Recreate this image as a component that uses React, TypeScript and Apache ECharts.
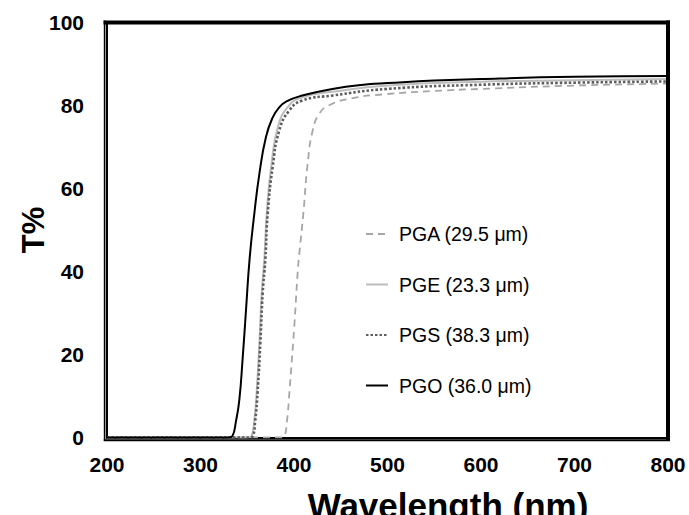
import React, { useEffect, useRef } from "react";
import * as echarts from "echarts";

const seriesNames = ["PGA (29.5 μm)", "PGE (23.3 μm)", "PGS (38.3 μm)", "PGO (36.0 μm)"];

const pgaWave = [200, 386, 389.6, 392.5, 395, 400.3, 404, 406, 410, 414.6, 420, 427, 437, 461, 496.6, 550, 600, 700, 800];
const pgaT = [0, 0, 0.3, 4, 10.7, 26.8, 40, 45, 54, 66, 74, 78, 80, 81.7, 82.7, 83.5, 84, 84.8, 85.3];

const pgeWave = [200, 351, 354.5, 357.5, 360, 363, 365.5, 368.3, 371, 376, 383, 394, 409, 441, 500, 600, 700, 800];
const pgeT = [0, 0, 0.3, 4, 10.7, 22.8, 34.8, 43, 54.5, 66, 75, 79.8, 82, 83.3, 84.8, 85.7, 86.1, 86.4];

const pgsWave = [200, 352, 355.8, 358.5, 361, 364, 366.5, 369.3, 371.9, 377.2, 384.3, 395, 409, 441, 500, 600, 700, 800];
const pgsT = [0, 0, 0.3, 4, 10.7, 22.8, 34.8, 42.8, 54, 65.2, 74, 78.8, 81.2, 82.4, 84, 85, 85.5, 85.8];

const pgoWave = [200, 330, 334, 338, 341.5, 345, 348.7, 352.5, 357.6, 363, 370, 377, 384, 392, 409, 441, 479, 500, 550, 600, 700, 800];
const pgoT = [0, 0, 0.3, 4, 9, 18.8, 30.8, 43, 54, 63.6, 72.4, 77, 79.5, 81, 82.4, 84, 85.1, 85.4, 86, 86.4, 86.9, 87.1];

const xTicks = [200, 300, 400, 500, 600, 700, 800];
const yTicks = [0, 20, 40, 60, 80, 100];

const pairs = (xs: number[], ys: number[]) => xs.map((x, i) => [x, ys[i]]);

const FONT = "'Liberation Sans', Arial, sans-serif";

export default function App() {
  const ref = useRef<HTMLDivElement>(null);
  useEffect(() => {
    if (!ref.current) return;
    const chart = echarts.init(ref.current, undefined, { renderer: "svg" });
    const mk = (name: string, data: number[][], color: string, width: number, type: any) => ({
      name,
      type: "line",
      data,
      showSymbol: false,
      symbol: "none",
      smooth: 0.5,
      lineStyle: { color, width, type },
      itemStyle: { color },
      z: 3,
    });
    chart.setOption({
      animation: false,
      backgroundColor: "#ffffff",
      grid: { left: 107, right: 21, top: 22.5, bottom: 77.5, containLabel: false },
      xAxis: {
        type: "value",
        min: xTicks[0],
        max: xTicks[xTicks.length - 1],
        interval: 100,
        axisLine: { show: true, lineStyle: { color: "#000", width: 2 } },
        axisTick: { show: false },
        splitLine: { show: false },
        axisLabel: { color: "#000", fontSize: 21, fontWeight: "bold", fontFamily: FONT, margin: 16 },
      },
      yAxis: {
        type: "value",
        min: yTicks[0],
        max: yTicks[yTicks.length - 1],
        interval: 20,
        axisLine: { show: true, lineStyle: { color: "#000", width: 2 } },
        axisTick: { show: false },
        splitLine: { show: false },
        axisLabel: { color: "#000", fontSize: 21, fontWeight: "bold", fontFamily: FONT, margin: 23 },
      },
      legend: {
        orient: "vertical",
        left: 360,
        top: 219,
        itemWidth: 22,
        itemHeight: 14,
        itemGap: 30.5,
        itemStyle: { opacity: 0, borderWidth: 0 },
        textStyle: { color: "#000", fontSize: 19.5, fontFamily: FONT, padding: [0, 0, 0, 6] },
        data: seriesNames,
      },
      series: [
        mk(seriesNames[0], pairs(pgaWave, pgaT), "#a6a6a6", 1.8, [7, 5]),
        mk(seriesNames[1], pairs(pgeWave, pgeT), "#bdbdbd", 2, "solid"),
        mk(seriesNames[2], pairs(pgsWave, pgsT), "#5e5e5e", 2.6, [2.5, 2]),
        mk(seriesNames[3], pairs(pgoWave, pgoT), "#000000", 2, "solid"),
      ],
      graphic: [
        { type: "line", z: 100, shape: { x1: 103.5, y1: 22.5, x2: 670, y2: 22.5 }, style: { stroke: "#000", lineWidth: 4 } },
        { type: "line", z: 100, shape: { x1: 668, y1: 20.5, x2: 668, y2: 441 }, style: { stroke: "#000", lineWidth: 4 } },
        { type: "line", z: 100, shape: { x1: 104.6, y1: 20.5, x2: 104.6, y2: 441 }, style: { stroke: "#000", lineWidth: 1.6 } },
        { type: "line", z: 100, shape: { x1: 103.8, y1: 440.2, x2: 670, y2: 440.2 }, style: { stroke: "#000", lineWidth: 2 } },
        {
          type: "text",
          x: 33,
          y: 230,
          rotation: Math.PI / 2,
          style: { text: "T%", fill: "#000", fontSize: 31, fontWeight: "bold", fontFamily: FONT, align: "center", verticalAlign: "middle" },
        },
        {
          type: "text",
          x: 448,
          y: 505,
          style: { text: "Wavelength (nm)", fill: "#000", fontSize: 35, fontWeight: "bold", fontFamily: FONT, align: "center", verticalAlign: "middle" },
        },
      ],
    });
    return () => chart.dispose();
  }, []);
  return <div ref={ref} style={{ width: 689, height: 515, position: "absolute", left: 0, top: 0 }} />;
}
